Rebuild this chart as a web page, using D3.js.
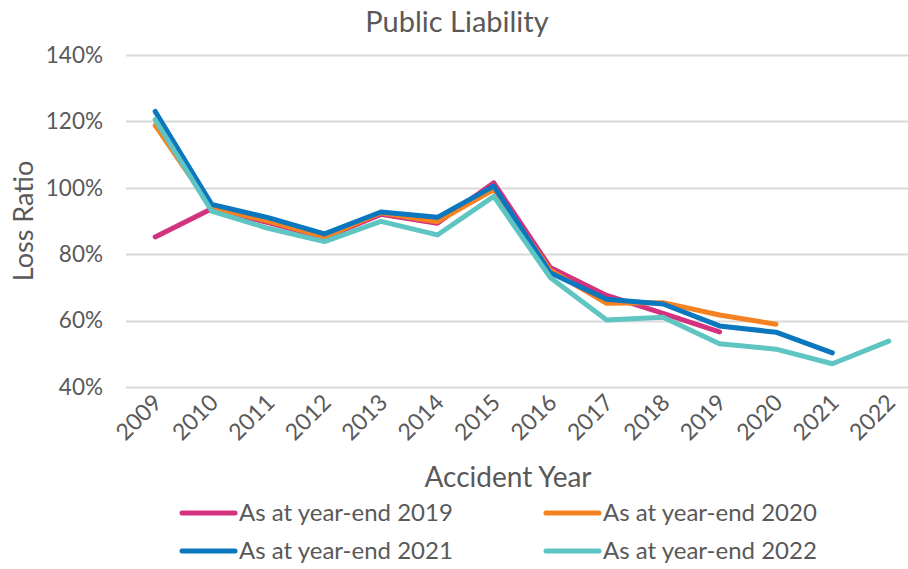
<!DOCTYPE html>
<html>
<head>
<meta charset="utf-8">
<script src="https://cdn.jsdelivr.net/npm/d3@7"></script>
<style>
  body { margin: 0; background: #fff; }
  text { font-family: Lato, "Open Sans", sans-serif; fill: #595959; }
</style>
</head>
<body>
<script>
const years = ["2009","2010","2011","2012","2013","2014","2015","2016","2017","2018","2019","2020","2021","2022"];
const yTicks = [0.4, 0.6, 0.8, 1.0, 1.2, 1.4];

// loss ratios by accident year, one list per valuation
const ye2019 = [0.852, 0.937, 0.895, 0.850, 0.920, 0.893, 1.015, 0.760, 0.676, 0.622, 0.566];
const ye2020 = [1.188, 0.940, 0.900, 0.852, 0.925, 0.898, 0.995, 0.752, 0.652, 0.654, 0.617, 0.589];
const ye2021 = [1.230, 0.950, 0.910, 0.861, 0.927, 0.911, 1.005, 0.744, 0.664, 0.650, 0.584, 0.565, 0.503];
const ye2022 = [1.205, 0.930, 0.878, 0.838, 0.899, 0.858, 0.974, 0.730, 0.602, 0.610, 0.530, 0.514, 0.470, 0.538];

const seriesNames = ["As at year-end 2019", "As at year-end 2020", "As at year-end 2021", "As at year-end 2022"];
const seriesColors = ["#D4317F", "#F58220", "#0A77BE", "#5EC5C2"];
const seriesData = [ye2019, ye2020, ye2021, ye2022];

const W = 908, H = 569;
const svg = d3.select("body").append("svg")
    .attr("width", W)
    .attr("height", H);

const x = d3.scaleBand()
    .domain(years)
    .range([127, 917]);

const y = d3.scaleLinear()
    .domain([0.4, 1.4])
    .range([387, 55]);

// gridlines
svg.append("g")
    .selectAll("line")
    .data(yTicks)
    .join("line")
    .attr("x1", 126)
    .attr("x2", 917)
    .attr("y1", d => Math.round(y(d)) + 0.5)
    .attr("y2", d => Math.round(y(d)) + 0.5)
    .attr("stroke", "#d9d9d9")
    .attr("stroke-width", 2);

// y tick labels
svg.append("g")
    .selectAll("text")
    .data(yTicks)
    .join("text")
    .attr("x", 103)
    .attr("y", d => y(d))
    .attr("dy", "0.35em")
    .attr("text-anchor", "end")
    .style("font-size", "22.5px")
    .text(d => d3.format(".0%")(d));

// x tick labels, rotated
svg.append("g")
    .selectAll("text")
    .data(years)
    .join("text")
    .attr("transform", d => "translate(" + (x(d) + x.bandwidth() / 2 + 8) + ",404) rotate(-45)")
    .attr("text-anchor", "end")
    .style("font-size", "23px")
    .text(d => d);

// lines
const line = d3.line()
    .x((d, i) => x(years[i]) + x.bandwidth() / 2)
    .y(d => y(d));

svg.append("g")
    .selectAll("path")
    .data(seriesData)
    .join("path")
    .attr("d", d => line(d))
    .attr("fill", "none")
    .attr("stroke", (d, i) => seriesColors[i])
    .attr("stroke-width", 5)
    .attr("stroke-linecap", "round")
    .attr("stroke-linejoin", "round");

// titles
svg.append("text")
    .attr("x", 457)
    .attr("y", 32)
    .attr("text-anchor", "middle")
    .style("font-size", "29px")
    .text("Public Liability");

svg.append("text")
    .attr("transform", "translate(33,221) rotate(-90)")
    .attr("text-anchor", "middle")
    .style("font-size", "27px")
    .text("Loss Ratio");

svg.append("text")
    .attr("x", 508)
    .attr("y", 487)
    .attr("text-anchor", "middle")
    .style("font-size", "28px")
    .text("Accident Year");

// legend
const legend = svg.append("g")
    .selectAll("g")
    .data(seriesNames)
    .join("g")
    .attr("transform", (d, i) => "translate(" + (i % 2 === 0 ? 182 : 546) + "," + (i < 2 ? 513 : 551) + ")");

legend.append("line")
    .attr("x1", 0)
    .attr("x2", 53)
    .attr("stroke", (d, i) => seriesColors[i])
    .attr("stroke-width", 5)
    .attr("stroke-linecap", "round");

legend.append("text")
    .attr("x", 57)
    .attr("dy", "0.35em")
    .style("font-size", "24px")
    .text(d => d);
</script>
</body>
</html>
